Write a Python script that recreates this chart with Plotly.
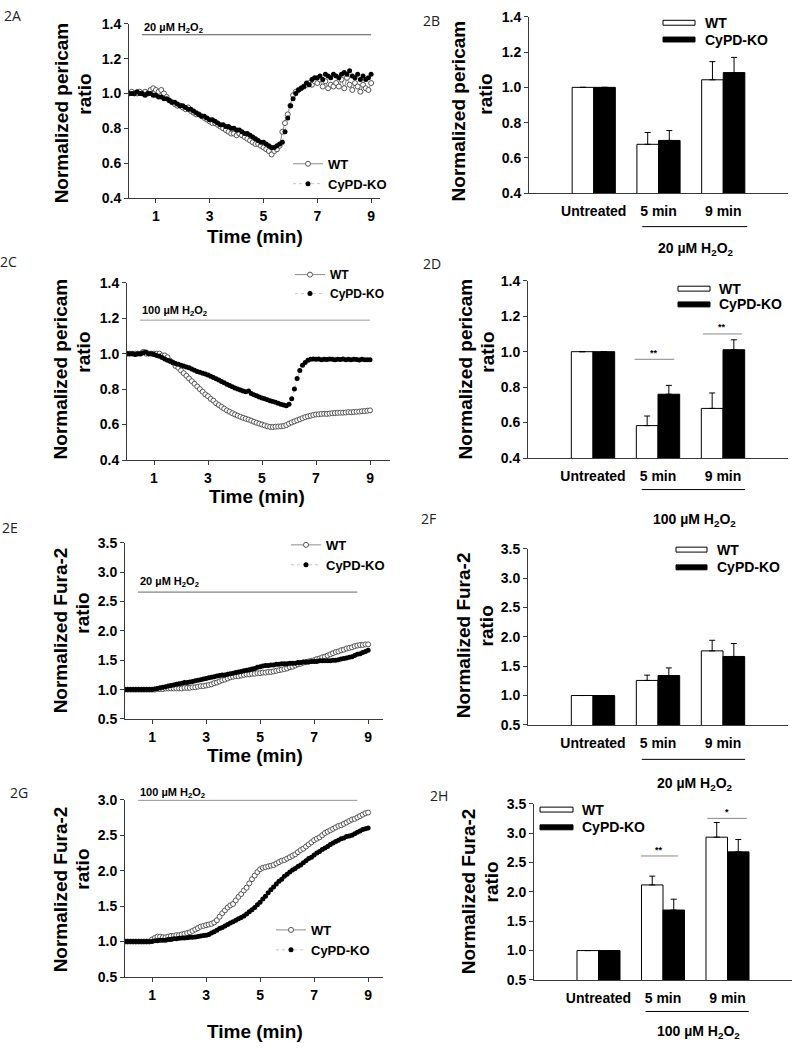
import numpy as np
import plotly.graph_objects as go

W, H = 792, 1050


def fx(p):
    return p / W


def fy(p):
    return 1 - p / H


# sampling times (min) of the traces
time_min = np.round(np.arange(91) * 0.1, 1)

# 2A - pericam, 20 uM H2O2
a_wt = [1.00, 1.01, 1.00, 1.00, 1.01, 1.00, 1.01, 1.00, 1.02, 1.03,
        1.02, 1.01, 1.02, 1.00, 0.98, 0.96, 0.95, 0.94, 0.93, 0.93,
        0.92, 0.91, 0.92, 0.90, 0.89, 0.88, 0.88, 0.87, 0.86, 0.85,
        0.84, 0.83, 0.83, 0.82, 0.81, 0.80, 0.79, 0.78, 0.77, 0.77,
        0.76, 0.77, 0.76, 0.75, 0.74, 0.73, 0.72, 0.71, 0.71, 0.70,
        0.69, 0.68, 0.67, 0.65, 0.67, 0.68, 0.70, 0.78, 0.83, 0.88,
        0.93, 0.99, 1.01, 1.02, 1.03, 1.04, 1.05, 1.06, 1.05, 1.07,
        1.06, 1.08, 1.04, 1.07, 1.03, 1.05, 1.04, 1.06, 1.04, 1.08,
        1.03, 1.09, 1.05, 1.02, 1.06, 1.04, 1.01, 1.05, 1.03, 1.02,
        1.06]
a_ko = [1.00, 1.00, 1.00, 1.01, 1.00, 1.00, 0.99, 1.00, 1.00, 0.99,
        0.99, 0.98, 0.98, 0.97, 0.97, 0.96, 0.95, 0.95, 0.94, 0.93,
        0.93, 0.92, 0.91, 0.91, 0.90, 0.89, 0.88, 0.87, 0.87, 0.86,
        0.85, 0.85, 0.84, 0.83, 0.82, 0.82, 0.81, 0.81, 0.80, 0.80,
        0.79, 0.79, 0.78, 0.77, 0.77, 0.76, 0.75, 0.74, 0.73, 0.72,
        0.72, 0.71, 0.70, 0.69, 0.69, 0.70, 0.71, 0.72, 0.78, 0.86,
        0.93, 0.97, 1.00, 1.02, 1.03, 1.04, 1.06, 1.05, 1.08, 1.09,
        1.09, 1.10, 1.08, 1.11, 1.10, 1.09, 1.11, 1.10, 1.09, 1.11,
        1.12, 1.11, 1.13, 1.10, 1.09, 1.11, 1.08, 1.10, 1.08, 1.09,
        1.11]

# 2C - pericam, 100 uM H2O2
c_wt = [1.00, 1.00, 1.00, 1.00, 1.00, 1.00, 1.01, 1.00, 1.00, 1.00,
        1.00, 1.00, 1.00, 0.99, 0.99, 0.98, 0.96, 0.95, 0.93, 0.92,
        0.905, 0.89, 0.875, 0.86, 0.845, 0.83, 0.815, 0.80, 0.785, 0.77,
        0.76, 0.745, 0.735, 0.72, 0.71, 0.70, 0.69, 0.68, 0.672, 0.664,
        0.657, 0.65, 0.644, 0.638, 0.633, 0.628, 0.622, 0.616, 0.61, 0.605,
        0.60, 0.595, 0.59, 0.587, 0.586, 0.588, 0.589, 0.590, 0.592, 0.597,
        0.605, 0.612, 0.618, 0.624, 0.63, 0.636, 0.642, 0.646, 0.650, 0.654,
        0.657, 0.658, 0.660, 0.661, 0.660, 0.662, 0.664, 0.665, 0.666, 0.667,
        0.667, 0.668, 0.670, 0.669, 0.671, 0.672, 0.673, 0.675, 0.676, 0.678,
        0.68]
c_ko = [1.00, 1.00, 1.00, 0.995, 1.00, 1.00, 1.005, 1.01, 1.00, 1.00,
        0.995, 0.99, 0.985, 0.978, 0.97, 0.963, 0.957, 0.95, 0.945, 0.94,
        0.935, 0.93, 0.925, 0.92, 0.913, 0.907, 0.90, 0.895, 0.89, 0.885,
        0.88, 0.873, 0.866, 0.858, 0.851, 0.843, 0.836, 0.828, 0.82, 0.813,
        0.806, 0.80, 0.795, 0.79, 0.785, 0.79, 0.775, 0.768, 0.762, 0.756,
        0.75, 0.745, 0.74, 0.735, 0.73, 0.726, 0.72, 0.715, 0.71, 0.706,
        0.715, 0.745, 0.80, 0.86, 0.905, 0.935, 0.95, 0.963, 0.968, 0.97,
        0.968, 0.97, 0.966, 0.969, 0.967, 0.97, 0.968, 0.965, 0.969, 0.967,
        0.97, 0.966, 0.968, 0.965, 0.969, 0.967, 0.964, 0.968, 0.966, 0.965,
        0.965]

# 2E - Fura-2, 20 uM H2O2
e_wt = [1.00, 1.00, 1.00, 1.00, 1.00, 1.00, 1.00, 1.00, 1.00, 1.00,
        1.00, 1.00, 1.01, 1.01, 1.01, 1.02, 1.02, 1.02, 1.02, 1.02,
        1.02, 1.02, 1.03, 1.03, 1.03, 1.04, 1.04, 1.05, 1.06, 1.06,
        1.07, 1.08, 1.09, 1.11, 1.12, 1.14, 1.16, 1.17, 1.19, 1.21,
        1.22, 1.23, 1.23, 1.24, 1.25, 1.26, 1.26, 1.27, 1.27, 1.28,
        1.28, 1.29, 1.29, 1.30, 1.30, 1.31, 1.32, 1.33, 1.34, 1.35,
        1.36, 1.38, 1.39, 1.41, 1.43, 1.44, 1.46, 1.47, 1.48, 1.49,
        1.50, 1.52, 1.53, 1.55, 1.56, 1.58, 1.60, 1.62, 1.64, 1.65,
        1.67, 1.68, 1.70, 1.71, 1.72, 1.74, 1.75, 1.76, 1.76, 1.77,
        1.77]
e_ko = [1.00, 1.00, 1.00, 1.00, 1.00, 1.00, 1.00, 1.00, 1.00, 1.00,
        1.00, 1.01, 1.02, 1.03, 1.04, 1.05, 1.06, 1.07, 1.08, 1.09,
        1.10, 1.11, 1.12, 1.12, 1.13, 1.14, 1.15, 1.16, 1.17, 1.18,
        1.19, 1.20, 1.21, 1.22, 1.23, 1.24, 1.25, 1.25, 1.26, 1.27,
        1.28, 1.29, 1.30, 1.31, 1.32, 1.33, 1.34, 1.35, 1.36, 1.38,
        1.39, 1.40, 1.41, 1.41, 1.42, 1.42, 1.43, 1.43, 1.44, 1.44,
        1.44, 1.45, 1.45, 1.45, 1.46, 1.46, 1.47, 1.47, 1.47, 1.48,
        1.48, 1.48, 1.49, 1.49, 1.49, 1.49, 1.49, 1.50, 1.50, 1.51,
        1.52, 1.53, 1.54, 1.55, 1.56, 1.58, 1.60, 1.61, 1.63, 1.65,
        1.67]

# 2G - Fura-2, 100 uM H2O2
g_wt = [1.00, 1.00, 1.00, 1.00, 1.00, 1.00, 1.00, 1.00, 1.00, 1.00,
        1.03, 1.05, 1.07, 1.07, 1.06, 1.06, 1.07, 1.08, 1.08, 1.09,
        1.09, 1.10, 1.11, 1.12, 1.13, 1.15, 1.17, 1.19, 1.21, 1.22,
        1.23, 1.24, 1.25, 1.27, 1.30, 1.35, 1.40, 1.44, 1.48, 1.51,
        1.53, 1.58, 1.63, 1.67, 1.72, 1.76, 1.82, 1.88, 1.93, 1.98,
        2.02, 2.04, 2.05, 2.06, 2.07, 2.08, 2.10, 2.12, 2.14, 2.15,
        2.17, 2.19, 2.21, 2.23, 2.26, 2.29, 2.31, 2.34, 2.37, 2.40,
        2.43, 2.45, 2.47, 2.50, 2.53, 2.55, 2.57, 2.59, 2.61, 2.63,
        2.64, 2.66, 2.68, 2.70, 2.72, 2.73, 2.75, 2.77, 2.79, 2.81,
        2.82]
g_ko = [1.00, 1.00, 1.00, 1.00, 1.00, 1.00, 1.00, 1.00, 1.00, 1.00,
        1.00, 1.01, 1.01, 1.02, 1.02, 1.02, 1.03, 1.03, 1.04, 1.04,
        1.045, 1.05, 1.05, 1.055, 1.06, 1.06, 1.065, 1.07, 1.08, 1.085,
        1.09, 1.10, 1.12, 1.14, 1.16, 1.185, 1.20, 1.22, 1.24, 1.26,
        1.28, 1.30, 1.32, 1.34, 1.36, 1.39, 1.42, 1.45, 1.48, 1.52,
        1.555, 1.60, 1.64, 1.69, 1.73, 1.77, 1.81, 1.85, 1.88, 1.92,
        1.95, 1.98, 2.01, 2.03, 2.06, 2.08, 2.11, 2.14, 2.17, 2.19,
        2.22, 2.25, 2.27, 2.30, 2.32, 2.34, 2.37, 2.39, 2.41, 2.43,
        2.45, 2.46, 2.48, 2.49, 2.50, 2.52, 2.54, 2.56, 2.58, 2.59,
        2.60]

# bar panels: Untreated, 5 min, 9 min (mean and upper SEM)
groups = ["Untreated", "5 min", "9 min"]
b_wt, b_wt_err = [1.00, 0.677, 1.043], [None, 0.067, 0.103]
b_ko, b_ko_err = [1.00, 0.699, 1.084], [None, 0.056, 0.086]
d_wt, d_wt_err = [1.00, 0.583, 0.680], [None, 0.054, 0.087]
d_ko, d_ko_err = [1.00, 0.760, 1.011], [None, 0.050, 0.056]
f_wt, f_wt_err = [1.00, 1.257, 1.760], [None, 0.090, 0.180]
f_ko, f_ko_err = [1.00, 1.340, 1.665], [None, 0.130, 0.220]
h_wt, h_wt_err = [1.00, 2.117, 2.930], [None, 0.150, 0.250]
h_ko, h_ko_err = [1.00, 1.690, 2.680], [None, 0.185, 0.210]

FONT = "Liberation Sans, Arial, sans-serif"
AX = "#3a3a3a"
H2O2 = "H<sub>2</sub>O<sub>2</sub>"

fig = go.Figure()

# ---- line panels ----
line_panels = [
    # axis id, wt, ko, legend, x px, y px, x range, y range, dtick
    ("", a_wt, a_ko, "legend", (129, 380), (16, 193), [0, 9.33], [0.4, 1.4], 0.2),
    ("3", c_wt, c_ko, "legend2", (127, 390), (279, 459), [0, 9.74], [0.4, 1.4], 0.2),
    ("5", e_wt, e_ko, "legend3", (125, 383), (543, 722), [0, 9.55], [0.5, 3.5], 0.5),
    ("7", g_wt, g_ko, "legend4", (125, 383), (804, 984), [0, 9.55], [0.5, 3.0], 0.5),
]
layout = {}
for ax, wt, ko, leg, xp, yp, xr, yr, dt in line_panels:
    fig.add_trace(go.Scatter(
        x=time_min, y=wt, mode="lines+markers", name="WT", legend=leg,
        line=dict(color="#8c8c8c", width=1),
        marker=dict(size=5, color="white", line=dict(color="#555555", width=1)),
        xaxis="x" + ax, yaxis="y" + ax))
    fig.add_trace(go.Scatter(
        x=time_min, y=ko, mode="lines+markers", name="CyPD-KO", legend=leg,
        line=dict(color="#c8c8c8", width=1, dash="dot"),
        marker=dict(size=5, color="black"),
        xaxis="x" + ax, yaxis="y" + ax))
    layout["xaxis" + ax] = dict(
        domain=[fx(xp[0]), fx(xp[1])], range=xr, anchor="y" + ax,
        tickvals=[1, 3, 5, 7, 9], ticks="outside", ticklen=4, tickcolor=AX,
        showline=True, linecolor=AX, linewidth=1, showgrid=False, zeroline=False,
        tickfont=dict(family=FONT, size=14, color="black", weight="bold"),
        ticklabelstandoff=1)
    layout["yaxis" + ax] = dict(
        domain=[fy(yp[1]), fy(yp[0])], range=yr, anchor="x" + ax,
        dtick=dt, tick0=yr[0], tickformat=".1f", ticks="outside", ticklen=4,
        tickcolor=AX, showline=True, linecolor=AX, linewidth=1,
        showgrid=False, zeroline=False,
        tickfont=dict(family=FONT, size=14, color="black", weight="bold"))

# ---- bar panels ----
bar_panels = [
    ("2", b_wt, b_wt_err, b_ko, b_ko_err, (529, 788), (9, 188), [0.4, 1.4], 0.2),
    ("4", d_wt, d_wt_err, d_ko, d_ko_err, (528, 788), (277, 457), [0.4, 1.4], 0.2),
    ("6", f_wt, f_wt_err, f_ko, f_ko_err, (528, 788), (549, 728), [0.5, 3.5], 0.5),
    ("8", h_wt, h_wt_err, h_ko, h_ko_err, (534, 792), (808, 987), [0.5, 3.5], 0.5),
]
for ax, wt, wte, ko, koe, xp, yp, yr, dt in bar_panels:
    for name, vals, err, col in [("WT", wt, wte, "white"), ("CyPD-KO", ko, koe, "black")]:
        fig.add_trace(go.Bar(
            x=[0, 1, 2], y=vals, name=name, showlegend=False,
            marker=dict(color=col, line=dict(color="black", width=1)),
            error_y=dict(type="data", symmetric=False, array=err,
                         arrayminus=[0, 0, 0], color="black", thickness=1, width=3),
            xaxis="x" + ax, yaxis="y" + ax))
    layout["xaxis" + ax] = dict(
        domain=[fx(xp[0]), fx(xp[1])], range=[-1, 3], anchor="y" + ax,
        tickvals=[0, 1, 2], ticktext=groups, ticks="",
        showline=True, linecolor=AX, linewidth=1, showgrid=False, zeroline=False,
        tickfont=dict(family=FONT, size=14, color="black", weight="bold"),
        ticklabelstandoff=5)
    layout["yaxis" + ax] = dict(
        domain=[fy(yp[1]), fy(yp[0])], range=yr, anchor="x" + ax,
        dtick=dt, tick0=yr[0], tickformat=".1f", ticks="outside", ticklen=4,
        tickcolor=AX, showline=True, linecolor=AX, linewidth=1,
        showgrid=False, zeroline=False,
        tickfont=dict(family=FONT, size=14, color="black", weight="bold"))

annotations = []
shapes = []


def text(x, y, s, size=14, xref="paper", yref="paper", angle=0, xanchor="center",
         bold=True, family=FONT, color="black"):
    annotations.append(dict(
        x=x, y=y, xref=xref, yref=yref, text=s, showarrow=False, textangle=angle,
        xanchor=xanchor, yanchor="middle",
        font=dict(family=family, size=size, color=color,
                  weight="bold" if bold else "normal")))


# panel letters
for lab, px_, py_ in [("2A", 12, 8), ("2B", 432, 13), ("2C", 8, 257), ("2D", 432, 259),
                      ("2E", 10, 528), ("2F", 428, 518), ("2G", 19, 797), ("2H", 439, 800)]:
    text(fx(px_), fy(py_), lab, size=14, bold=False, family="Open Sans, sans-serif",
         color="#222222")

# y-axis titles (two lines each)
for l1, p1, p2 in [("Normalized pericam", (61, 107), (85, 88)),
                   ("Normalized pericam", (458, 105), (486, 88)),
                   ("Normalized pericam", (60, 367), (84, 350)),
                   ("Normalized pericam", (465, 367), (488, 350)),
                   ("Normalized Fura-2", (60, 632), (83, 615)),
                   ("Normalized Fura-2", (463, 637), (486, 628)),
                   ("Normalized Fura-2", (60, 895), (83, 875)),
                   ("Normalized Fura-2", (468, 897), (491, 888))]:
    text(fx(p1[0]), fy(p1[1]), l1, size=19, angle=-90)
    text(fx(p2[0]), fy(p2[1]), "ratio", size=19, angle=-90)

# x-axis titles for the time courses
for px_, py_ in [(255, 232), (257, 496), (255, 759), (255, 1039)]:
    text(fx(px_), fy(py_), "Time (min)", size=19)

# treatment bars over the time courses (y of text in axis-domain units)
for ax, t0, t1, yl, yt, label, col in [
        ("", 0.48, 9.0, 1.337, 0.977, "20 µM " + H2O2, "#555555"),
        ("3", 0.48, 9.0, 1.189, 0.839, "100 µM " + H2O2, "#999999"),
        ("5", 0.48, 8.6, 2.66, 0.777, "20 µM " + H2O2, "#666666"),
        ("7", 0.48, 8.6, 2.995, 1.04, "100 µM " + H2O2, "#666666")]:
    shapes.append(dict(type="line", xref="x" + ax, yref="y" + ax, x0=t0, x1=t1,
                       y0=yl, y1=yl, line=dict(color=col, width=1)))
    text(t0, yt, label, size=11, xref="x" + ax, yref="y" + ax + " domain",
         xanchor="left")

# treatment brackets under the bar charts
for ax, x0, x1, yl, yt, label in [
        ("2", 0.75, 2.37, 222, 245, "20 µM " + H2O2),
        ("4", 0.75, 2.34, 489, 520, "100 µM " + H2O2),
        ("6", 0.75, 2.34, 763, 788, "20 µM " + H2O2),
        ("8", 0.73, 2.33, 1019, 1040, "100 µM " + H2O2)]:
    shapes.append(dict(type="line", xref="x" + ax, yref="paper", x0=x0, x1=x1,
                       y0=fy(yl), y1=fy(yl), line=dict(color="black", width=1)))
    text((x0 + x1) / 2 + 0.02, fy(yt), label, size=14, xref="x" + ax)

# significance marks
for ax, x0, x1, yl, yt, star in [
        ("4", 0.64, 1.25, 0.957, 0.995, "**"),
        ("4", 1.69, 2.29, 1.10, 1.138, "**"),
        ("8", 0.66, 1.23, 2.61, 2.71, "**"),
        ("8", 1.69, 2.30, 3.25, 3.36, "*")]:
    shapes.append(dict(type="line", xref="x" + ax, yref="y" + ax, x0=x0, x1=x1,
                       y0=yl, y1=yl, line=dict(color="#888888", width=1)))
    text((x0 + x1) / 2, yt, star, size=9, xref="x" + ax, yref="y" + ax)

# legend keys for the bar charts
for (rx0, rx1), wy, ky, tx in [((663, 695), 15, 32, 703), ((678, 710), 285, 301, 717),
                               ((676, 707), 550, 568, 715), ((540, 573), 814, 832, 580)]:
    shapes.append(dict(type="rect", xref="paper", yref="paper", x0=fx(rx0), x1=fx(rx1),
                       y0=fy(wy + 2.5), y1=fy(wy - 2.5), fillcolor="white",
                       line=dict(color="black", width=1)))
    shapes.append(dict(type="rect", xref="paper", yref="paper", x0=fx(rx0), x1=fx(rx1),
                       y0=fy(ky + 2.5), y1=fy(ky - 2.5), fillcolor="black",
                       line=dict(color="black", width=1)))
    text(fx(tx), fy(wy), "WT", size=14, xanchor="left")
    text(fx(tx), fy(ky), "CyPD-KO", size=14, xanchor="left")


def legend(px_, py_, size):
    return dict(x=fx(px_), y=fy(py_), xanchor="left", yanchor="top",
                bgcolor="rgba(0,0,0,0)", itemwidth=30, tracegroupgap=0,
                font=dict(family=FONT, size=size, color="black", weight="bold"))


fig.update_layout(
    width=W, height=H, margin=dict(l=0, r=0, t=0, b=0),
    paper_bgcolor="white", plot_bgcolor="white",
    barmode="group", bargap=0.333, bargroupgap=0,
    showlegend=True,
    legend=legend(288, 143, 13),
    legend2=legend(290, 256, 12),
    legend3=legend(286, 530, 13),
    legend4=legend(271, 921, 13),
    annotations=annotations, shapes=shapes,
    **layout)

fig.write_html("out.html", config={"displayModeBar": False},
               post_script="document.body.style.margin='0';")
